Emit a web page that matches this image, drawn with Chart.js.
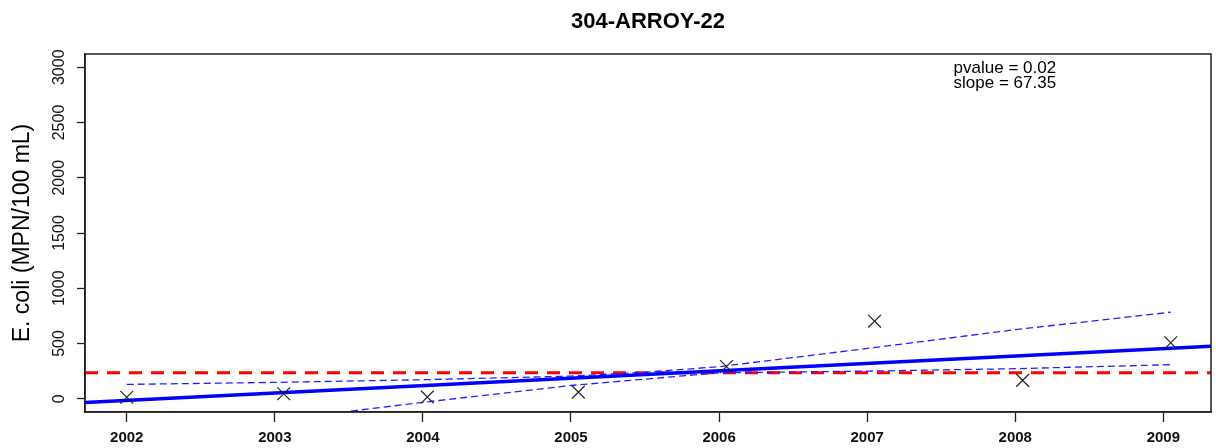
<!DOCTYPE html>
<html>
<head>
<meta charset="utf-8">
<script src="https://cdn.jsdelivr.net/npm/chart.js@4"></script>
<style>
  html, body { margin: 0; padding: 0; background: #fff; overflow: hidden; }
  #wrap { width: 1216px; height: 448px; position: relative; }
  canvas { display: block; }
</style>
</head>
<body>
<div id="wrap"><canvas id="ecoliChart"></canvas></div>
<script>
// tick labels
const yearTicks = [2002, 2003, 2004, 2005, 2006, 2007, 2008, 2009];
const concTicks = [0, 500, 1000, 1500, 2000, 2500, 3000];

// samples (decimal year, MPN/100 mL)
const sampleDates = [2002.0, 2003.06, 2004.03, 2005.05, 2006.05, 2007.05, 2008.05, 2009.05];
const ecoli = [14, 45, 15, 60, 292, 702, 166, 507];

// trend line and its band
const trendDates = [2001.718, 2009.322];
const trendValues = [-34, 474];

const upperDates = [2002.0, 2003.0, 2004.0, 2005.0, 2005.5, 2006.0, 2007.0, 2008.0, 2009.05];
const upperValues = [130, 148, 172, 205, 240, 290, 455, 625, 783];

const lowerDates = [2003.44, 2004.0, 2005.0, 2006.0, 2007.0, 2008.0, 2009.05];
const lowerValues = [-124, -32, 120, 235, 250, 272, 308];

const standard = 235;
const pvalue = 0.02;
const slope = 67.35;
const siteName = '304-ARROY-22';

const xMin = 2001.718, xMax = 2009.322;
const yMin = -120, yMax = 3120;

Chart.defaults.font.family = '"Liberation Sans", Arial, sans-serif';
Chart.defaults.color = '#000';

function pairs(xs, ys) {
  return xs.map((x, i) => ({ x: x, y: ys[i] }));
}

// R-style box, title over the plot region and the stats text
const boxAndNotes = {
  id: 'boxAndNotes',
  afterDraw(chart) {
    const { ctx, chartArea: a, scales: { x, y } } = chart;
    ctx.save();
    ctx.strokeStyle = '#222';
    ctx.lineWidth = 1.5;
    ctx.strokeRect(a.left, a.top, a.width, a.height);

    ctx.fillStyle = '#000';
    ctx.textAlign = 'center';
    ctx.textBaseline = 'middle';
    ctx.font = 'bold 22px "Liberation Sans", Arial, sans-serif';
    ctx.fillText(siteName, (a.left + a.right) / 2, 22);

    ctx.font = '17px "Liberation Sans", Arial, sans-serif';
    const px = x.getPixelForValue(2007.93);
    const py = y.getPixelForValue(2990);
    ctx.fillText('pvalue = ' + pvalue.toFixed(2), px, py);
    ctx.fillText('slope = ' + slope.toFixed(2), px, py + 15);
    ctx.restore();
  }
};

const canvas = document.getElementById('ecoliChart');
new Chart(canvas.getContext('2d'), {
  type: 'scatter',
  data: {
    datasets: [
      {
        label: 'samples',
        data: pairs(sampleDates, ecoli),
        pointStyle: 'crossRot',
        pointRadius: 9,
        pointHoverRadius: 9,
        borderColor: '#222',
        backgroundColor: '#222',
        pointBorderWidth: 1.2,
        order: 0
      },
      {
        label: 'standard',
        data: [{ x: xMin, y: standard }, { x: xMax, y: standard }],
        showLine: true,
        pointRadius: 0,
        borderColor: '#ff0000',
        borderWidth: 3,
        borderDash: [13, 9],
        order: 4
      },
      {
        label: 'upper',
        data: pairs(upperDates, upperValues),
        showLine: true,
        pointRadius: 0,
        borderColor: '#2020ff',
        borderWidth: 1.3,
        borderDash: [7, 4],
        order: 3
      },
      {
        label: 'lower',
        data: pairs(lowerDates, lowerValues),
        showLine: true,
        pointRadius: 0,
        borderColor: '#2020ff',
        borderWidth: 1.3,
        borderDash: [7, 4],
        order: 3
      },
      {
        label: 'trend',
        data: pairs(trendDates, trendValues),
        showLine: true,
        pointRadius: 0,
        borderColor: '#0000ff',
        borderWidth: 3.5,
        order: 1
      }
    ]
  },
  options: {
    responsive: true,
    maintainAspectRatio: false,
    animation: false,
    layout: { autoPadding: false, padding: { left: 0, right: 5, top: 54, bottom: 0 } },
    plugins: {
      legend: { display: false },
      tooltip: { enabled: false },
      title: { display: false }
    },
    scales: {
      x: {
        type: 'linear',
        min: xMin,
        max: xMax,
        afterBuildTicks: scale => { scale.ticks = yearTicks.map(v => ({ value: v })); },
        afterFit: scale => { scale.height = 36; scale.paddingLeft = 0; scale.paddingRight = 0; },
        grid: { drawOnChartArea: false, drawTicks: true, tickLength: 10, color: '#222', tickWidth: 1.3 },
        border: { display: true, color: '#222', width: 1.5 },
        ticks: {
          autoSkip: false,
          maxRotation: 0,
          padding: 7,
          color: '#111',
          font: { size: 15, weight: 'bold' },
          callback: v => String(v)
        }
      },
      y: {
        type: 'linear',
        min: yMin,
        max: yMax,
        afterBuildTicks: scale => { scale.ticks = concTicks.map(v => ({ value: v })); },
        afterFit: scale => { scale.width = 85; },
        grid: { drawOnChartArea: false, drawTicks: true, tickLength: 8, color: '#222', tickWidth: 1.3 },
        border: { display: true, color: '#222', width: 1.5 },
        title: {
          display: true,
          text: 'E. coli (MPN/100 mL)',
          color: '#000',
          font: { size: 23 },
          padding: { top: 9, bottom: 0 }
        },
        ticks: {
          autoSkip: false,
          minRotation: 90,
          maxRotation: 90,
          crossAlign: 'center',
          padding: 0,
          color: '#111',
          font: { size: 16 },
          callback: v => String(v)
        }
      }
    }
  },
  plugins: [boxAndNotes]
});
</script>
</body>
</html>
